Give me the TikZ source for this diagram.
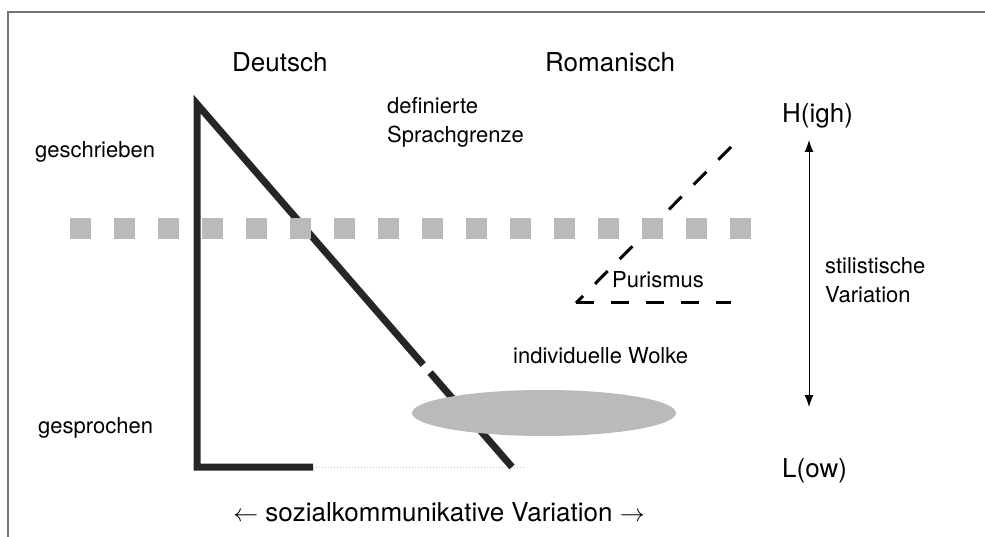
\documentclass[tikz,border=0pt]{standalone}
\usepackage{fontspec}
\setmainfont{TeX Gyre Heros}
\usetikzlibrary{calc,arrows.meta}
\begin{document}
\begin{tikzpicture}[x=1pt, y=-1pt,
      every node/.style={inner sep=0pt, anchor=base west},
      big/.style={font=\fontsize{26}{30}\selectfont},
      small/.style={font=\fontsize{22}{29}\selectfont, align=left},
      schenkel/.style={line width=7pt, draw=black!85, line join=miter},
      purist/.style={line width=3pt, dash pattern=on 18pt off 17pt},
      feld/.style={fill=black!27}]
  \useasboundingbox (0,0) rectangle (985,537);
  % frame
  \draw[black!55, line width=1.2pt] (8,537) -- (8,12) -- (985,12);
  % Deutsch: thick triangle
  \coordinate (spitze) at (197,104);
  \coordinate (ecke) at (197,467);
  \coordinate (fuss) at (313,467);
  \coordinate (ende) at (512,467);
  \draw[black!22, dotted, line width=1pt] (fuss) -- (525,467);
  \draw[schenkel] (fuss) -- (ecke) -- (spitze) -- ($(spitze)!0.718!(ende)$);
  \draw[schenkel] ($(spitze)!0.74!(ende)$) -- (ende);
  % Romanisch: dashed triangle
  \coordinate (oben) at (731,147);
  \coordinate (winkel) at (576,303);
  \coordinate (rechts) at (731,303);
  \draw[purist] (oben) -- (winkel);
  \draw[purist] (winkel) -- (rechts);
  % cloud
  \fill[feld] (544,413) ellipse [x radius=132, y radius=23];
  % language border
  \foreach \i in {0,...,15}
    \fill[feld] (70+44*\i,218) rectangle ++(21,21);
  % stylistic axis
  \coordinate (hoch) at (809,140);
  \coordinate (tief) at (809,407);
  \draw[{Latex[length=12pt,width=9pt]}-{Latex[length=12pt,width=9pt]}, line width=1pt] (hoch) -- (tief);
  % labels
  \node[big] (deutsch) at (232,72) {Deutsch};
  \node[big] (romanisch) at (545,72) {Romanisch};
  \node[small, anchor=north west] (grenze) at (387,97) {definierte\\Sprachgrenze};
  \node[big] (high) at (782,123) {H(igh)};
  \node[big] (low) at (782,477) {L(ow)};
  \node[small] (geschrieben) at (35,158) {geschrieben};
  \node[small] (gesprochen) at (38,433) {gesprochen};
  \node[small] (purismus) at (612,288) {Purismus};
  \node[small] (wolke) at (513,363) {individuelle Wolke};
  \node[small, anchor=north west] (stil) at (825,257) {stilistische\\Variation};
  \node[big, anchor=base] (sozial) at (439,521) {$\leftarrow$ sozialkommunikative Variation $\rightarrow$};
\end{tikzpicture}
\end{document}
